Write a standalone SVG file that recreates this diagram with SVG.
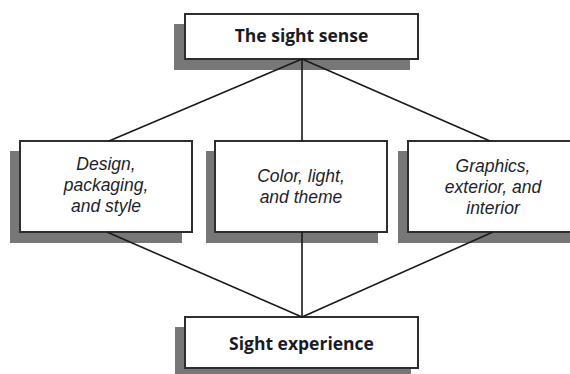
<svg xmlns="http://www.w3.org/2000/svg" width="570" height="374" viewBox="0 0 570 374">
  <style>
    .shadow { fill: #777777; }
    .box { fill: #ffffff; stroke: #2e2e2e; stroke-width: 2; }
    .link { stroke: #1a1a1a; stroke-width: 1.6; fill: none; }
    .title { font-family: "Open Sans", "Liberation Sans", sans-serif; font-weight: bold; font-size: 17.5px; fill: #1a1a24; text-anchor: middle; }
    .item { font-family: "Liberation Sans", Arial, sans-serif; font-style: italic; font-size: 17.5px; fill: #1e1e2a; text-anchor: middle; }
  </style>

  <!-- top node -->
  <g id="sight-sense">
    <rect class="shadow" x="174" y="24" width="236" height="46"/>
    <rect class="box" x="185" y="14" width="233" height="45"/>
    <text class="title" x="301.5" y="42">The sight sense</text>
  </g>

  <!-- middle row -->
  <g id="design">
    <rect class="shadow" x="10" y="151" width="172" height="92"/>
    <rect class="box" x="20" y="141" width="172" height="91"/>
    <text class="item" x="106" y="170">Design,</text>
    <text class="item" x="106" y="191">packaging,</text>
    <text class="item" x="106" y="212">and style</text>
  </g>

  <g id="color">
    <rect class="shadow" x="206" y="151" width="172" height="92"/>
    <rect class="box" x="215" y="141" width="172" height="91"/>
    <text class="item" x="301" y="182">Color, light,</text>
    <text class="item" x="301" y="203">and theme</text>
  </g>

  <g id="graphics">
    <rect class="shadow" x="398" y="151" width="172" height="92"/>
    <rect class="box" x="408" y="141" width="170" height="91"/>
    <text class="item" x="493" y="172">Graphics,</text>
    <text class="item" x="493" y="193">exterior, and</text>
    <text class="item" x="493" y="214">interior</text>
  </g>

  <!-- bottom node -->
  <g id="sight-experience">
    <rect class="shadow" x="175" y="327" width="236" height="50"/>
    <rect class="box" x="185" y="317" width="233" height="51"/>
    <text class="title" x="301.5" y="350">Sight experience</text>
  </g>

  <!-- connectors -->
  <g id="connectors">
    <line class="link" x1="302" y1="59" x2="109" y2="141"/>
    <line class="link" x1="302" y1="59" x2="302" y2="141"/>
    <line class="link" x1="302" y1="59" x2="490" y2="141"/>
    <line class="link" x1="107" y1="232" x2="302" y2="317"/>
    <line class="link" x1="302" y1="232" x2="302" y2="317"/>
    <line class="link" x1="493" y1="232" x2="302" y2="317"/>
  </g>
</svg>
